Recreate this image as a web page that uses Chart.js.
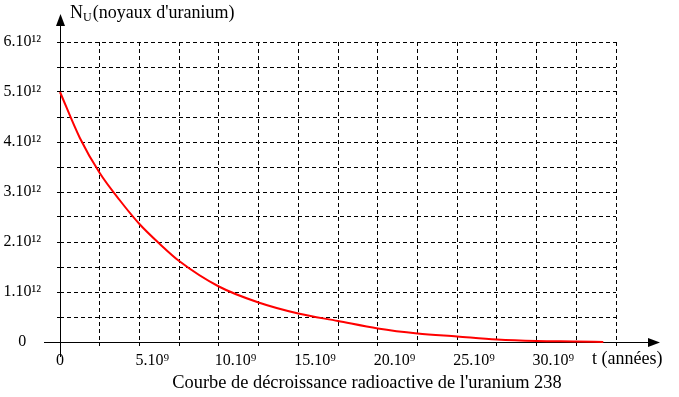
<!DOCTYPE html>
<html>
<head>
<meta charset="utf-8">
<script src="https://cdn.jsdelivr.net/npm/chart.js@4.4.0/dist/chart.umd.min.js"></script>
<style>
  html, body { margin: 0; padding: 0; background: #fff; }
  #wrap { width: 679px; height: 397px; }
</style>
</head>
<body>
<div id="wrap"><canvas id="myChart" width="679" height="397"></canvas></div>
<script>
// t in units of 1e9 years, N in units of 1e12 nuclei
const tValues = [0, 1.25, 2.5, 3.75, 5, 6.25, 7.5, 10, 12.5, 15, 17.5, 20, 22.5, 25, 27.5, 30, 32.5, 34.2]
const nValues = [5.0, 4.08, 3.38, 2.84, 2.36, 1.97, 1.62, 1.11, 0.79, 0.57, 0.42, 0.27, 0.17, 0.11, 0.05, 0.02, 0.01, 0.0]
const xTickLabels = ['0', '5.10⁹', '10.10⁹', '15.10⁹', '20.10⁹', '25.10⁹', '30.10⁹', '']
const yTickLabels = ['0', '1.10¹²', '2.10¹²', '3.10¹²', '4.10¹²', '5.10¹²', '6.10¹²']

const FONT = '"Liberation Serif", "Times New Roman", serif'

const axesPlugin = {
  id: 'axes',
  beforeDatasetsDraw(chart) {
    const ctx = chart.ctx
    const x = chart.scales.x
    const y = chart.scales.y
    const ox = Math.round(x.getPixelForValue(0)) + 0.5
    const oy = Math.round(y.getPixelForValue(0)) + 0.5
    const area = chart.chartArea
    ctx.save()
    ctx.strokeStyle = '#000'
    ctx.fillStyle = '#000'
    ctx.lineWidth = 1
    ctx.setLineDash([])
    // x axis
    ctx.beginPath()
    ctx.moveTo(area.left - 16, oy)
    ctx.lineTo(area.right + 34, oy)
    ctx.stroke()
    ctx.beginPath()
    ctx.moveTo(area.right + 44, oy)
    ctx.lineTo(area.right + 32, oy - 4.5)
    ctx.lineTo(area.right + 32, oy + 4.5)
    ctx.closePath()
    ctx.fill()
    // y axis
    ctx.beginPath()
    ctx.moveTo(ox, area.bottom + 15)
    ctx.lineTo(ox, area.top - 18)
    ctx.stroke()
    ctx.beginPath()
    ctx.moveTo(ox, area.top - 28)
    ctx.lineTo(ox - 4.5, area.top - 16)
    ctx.lineTo(ox + 4.5, area.top - 16)
    ctx.closePath()
    ctx.fill()

    // axis titles and caption
    ctx.textBaseline = 'alphabetic'
    ctx.textAlign = 'left'
    ctx.font = '18px ' + FONT
    let px = area.left + 10
    ctx.fillText('N', px, 18)
    px += ctx.measureText('N').width
    ctx.font = '12px ' + FONT
    ctx.fillText('U', px, 21)
    px += ctx.measureText('U').width + 1
    ctx.font = '18px ' + FONT
    ctx.fillText("(noyaux d'uranium)", px, 18)

    ctx.fillText('t (années)', area.right - 24, 364)
    ctx.textAlign = 'center'
    ctx.font = '18.4px ' + FONT
    ctx.fillText("Courbe de décroissance radioactive de l'uranium 238", 367, 388)
    ctx.restore()
  }
}

const points = tValues.map((t, i) => ({ x: t, y: nValues[i] }))

const ctx = document.getElementById('myChart').getContext('2d')
const myChart = new Chart(ctx, {
  type: 'line',
  data: {
    datasets: [{
      data: points,
      borderColor: 'rgb(255, 0, 0)',
      borderWidth: 2,
      pointRadius: 0,
      fill: false,
      cubicInterpolationMode: 'monotone',
      clip: 4
    }]
  },
  plugins: [axesPlugin],
  options: {
    responsive: false,
    animation: false,
    events: [],
    layout: { padding: { left: 0, right: 63, top: 42, bottom: 0 } },
    plugins: {
      legend: { display: false },
      tooltip: { enabled: false }
    },
    scales: {
      x: {
        type: 'linear',
        min: 0,
        max: 35,
        afterFit(scale) { scale.height = 55 },
        border: { display: false, dash: [4, 3] },
        grid: {
          color: '#000',
          lineWidth: 1,
          tickLength: 6,
          tickColor: '#000',
          tickBorderDash: [4, 3]
        },
        ticks: {
          stepSize: 2.5,
          autoSkip: false,
          maxRotation: 0,
          align: 'start',
          labelOffset: -4,
          padding: 3,
          color: '#000',
          font: { family: FONT, size: 16 },
          callback: (v, i) => (i % 2 === 0 ? (xTickLabels[i / 2] || '') : '')
        }
      },
      y: {
        type: 'linear',
        min: 0,
        max: 6,
        afterFit(scale) { scale.width = 60 },
        border: { display: false, dash: [4, 3] },
        grid: {
          color: '#000',
          lineWidth: 1,
          tickLength: 3,
          tickColor: '#000'
        },
        ticks: {
          stepSize: 0.5,
          autoSkip: false,
          padding: 16,
          crossAlign: 'center',
          color: '#000',
          font: { family: FONT, size: 16 },
          callback: (v, i) => (i % 2 === 0 ? (yTickLabels[i / 2] || '') : '')
        }
      }
    }
  }
})
</script>
</body>
</html>
